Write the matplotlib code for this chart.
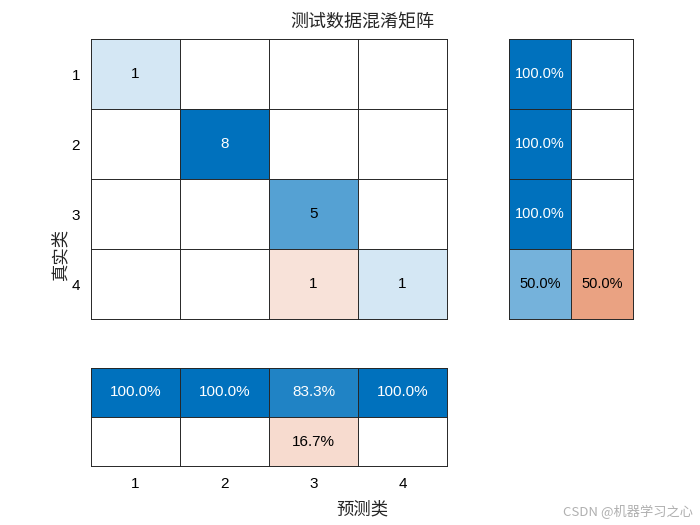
import numpy as np
import matplotlib
matplotlib.use("Agg")
import matplotlib.pyplot as plt

plt.rcParams['font.family'] = ['Liberation Sans', 'Noto Sans CJK SC', 'DejaVu Sans']

classes = ['1', '2', '3', '4']
conf = np.array([
    [1, 0, 0, 0],
    [0, 8, 0, 0],
    [0, 0, 5, 0],
    [0, 0, 1, 1],
])
row_correct = [100.0, 100.0, 100.0, 50.0]
row_wrong = [0.0, 0.0, 0.0, 50.0]
col_correct = [100.0, 100.0, 83.3, 100.0]
col_wrong = [0.0, 0.0, 16.7, 0.0]

title = '测试数据混淆矩阵'
xlabel = '预测类'
ylabel = '真实类'
watermark = 'CSDN @机器学习之心'

BLUE = np.array([0, 114, 189]) / 255
RED = np.array([217, 83, 25]) / 255
WHITE = np.ones(3)


def shade(base, f):
    if f <= 0:
        return WHITE
    f = min(1.0, 0.04 + f)
    return WHITE + (base - WHITE) * f


def draw_grid(ax, nr, nc):
    ax.set_xlim(-0.5, nc - 0.5)
    ax.set_ylim(nr - 0.5, -0.5)
    for i in range(nr + 1):
        ax.axhline(i - 0.5, color='#262626', lw=0.7, clip_on=False)
    for j in range(nc + 1):
        ax.axvline(j - 0.5, color='#262626', lw=0.7, clip_on=False)
    for s in ax.spines.values():
        s.set_visible(False)


fig = plt.figure(figsize=(7, 5.25), dpi=100)

# main matrix
ax = fig.add_axes([91/700, 1 - 319/525, 356/700, 280/525])
n = len(classes)
mx = conf.max()
img = np.ones((n, n, 3))
for i in range(n):
    for j in range(n):
        base = BLUE if i == j else RED
        img[i, j] = shade(base, conf[i, j] / mx)
ax.imshow(img, aspect='auto', interpolation='nearest')
for i in range(n):
    for j in range(n):
        if conf[i, j] > 0:
            f = conf[i, j] / mx
            ax.text(j, i, str(conf[i, j]), ha='center', va='center', fontsize=11,
                    color='white' if f > 0.7 else 'black')
draw_grid(ax, n, n)
ax.set_yticks(range(n))
ax.set_yticklabels(classes, fontsize=11)
ax.set_xticks([])
ax.tick_params(axis='y', length=0, pad=8)

# row summary
axr = fig.add_axes([509/700, 1 - 319/525, 124/700, 280/525])
rimg = np.ones((n, 2, 3))
for i in range(n):
    rimg[i, 0] = shade(BLUE, row_correct[i] / 100)
    rimg[i, 1] = shade(RED, row_wrong[i] / 100)
axr.imshow(rimg, aspect='auto', interpolation='nearest')
for i in range(n):
    for k, v in enumerate([row_correct[i], row_wrong[i]]):
        if v > 0:
            axr.text(k, i, f'{v:.1f}%', ha='center', va='center', fontsize=10.5,
                     color='white' if v > 70 else 'black')
draw_grid(axr, n, 2)
axr.set_xticks([])
axr.set_yticks([])

# column summary
axc = fig.add_axes([91/700, 1 - 466/525, 356/700, 98/525])
cimg = np.ones((2, n, 3))
for j in range(n):
    cimg[0, j] = shade(BLUE, col_correct[j] / 100)
    cimg[1, j] = shade(RED, col_wrong[j] / 100)
axc.imshow(cimg, aspect='auto', interpolation='nearest')
for j in range(n):
    for k, v in enumerate([col_correct[j], col_wrong[j]]):
        if v > 0:
            axc.text(j, k, f'{v:.1f}%', ha='center', va='center', fontsize=11,
                     color='white' if v > 70 else 'black')
draw_grid(axc, 2, n)
axc.set_yticks([])
axc.set_xticks(range(n))
axc.set_xticklabels(classes, fontsize=11)
axc.tick_params(axis='x', length=0, pad=8)

fig.text(362/700, 1 - 22/525, title, ha='center', va='center', fontsize=13,
         family=['Noto Sans CJK SC'], color='#262626')
fig.text(362/700, 1 - 509/525, xlabel, ha='center', va='center', fontsize=12.5,
         family=['Noto Sans CJK SC'], color='#262626')
fig.text(60/700, 1 - 255/525, ylabel, ha='center', va='center', fontsize=12.5,
         rotation=90, family=['Noto Sans CJK SC'], color='#262626')
fig.text(628/700, 1 - 512/525, watermark, ha='center', va='center', fontsize=9.5,
         family=['Noto Sans CJK SC', 'DejaVu Sans'], color='#b0b0b0')

fig.savefig('out.png', dpi=100)
